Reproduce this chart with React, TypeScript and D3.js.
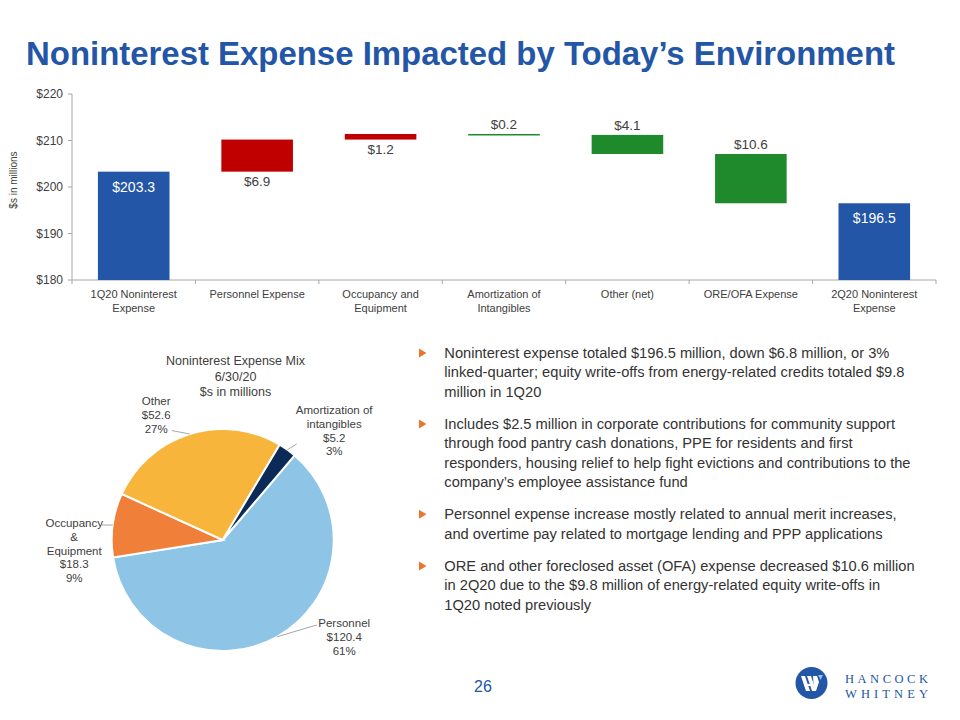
import React from "react";
import * as d3 from "d3";

// ---------- Data ----------
const categoryLabels = [
  "1Q20 Noninterest\nExpense",
  "Personnel Expense",
  "Occupancy and\nEquipment",
  "Amortization of\nIntangibles",
  "Other (net)",
  "ORE/OFA Expense",
  "2Q20 Noninterest\nExpense",
];
const startTotal = 203.3;
const changes = [6.9, 1.2, -0.2, -4.1, -10.6];
const endTotal = 196.5;
const yTicks = [180, 190, 200, 210, 220];

const mixLabels = ["Personnel", "Occupancy\n&\nEquipment", "Other", "Amortization of\nintangibles"];
const mixValues = [120.4, 18.3, 52.6, 5.2];
const mixPercents = ["61%", "9%", "27%", "3%"];

const bullets = [
  [
    "Noninterest expense totaled $196.5 million, down $6.8 million, or 3%",
    "linked-quarter; equity write-offs from energy-related credits totaled $9.8",
    "million in 1Q20",
  ],
  [
    "Includes $2.5 million in corporate contributions for community support",
    "through food pantry cash donations, PPE for residents and first",
    "responders, housing relief to help fight evictions and contributions to the",
    "company\u2019s employee assistance fund",
  ],
  [
    "Personnel expense increase mostly related to annual merit increases,",
    "and overtime pay related to mortgage lending and PPP applications",
  ],
  [
    "ORE and other foreclosed asset (OFA) expense decreased $10.6 million",
    "in 2Q20 due to the $9.8 million of energy-related equity write-offs in",
    "1Q20 noted previously",
  ],
];

// ---------- Style ----------
const FONT = "'Liberation Sans', Arial, sans-serif";
const BLUE = "#2356A6";
const RED = "#C00000";
const GREEN = "#1E8A2C";
const TEXT = "#404040";
const AXIS = "#A6A6A6";
const PIE_COLORS = ["#8EC4E6", "#F07F3A", "#F8B53B", "#0B2A57"];

// pie label layout (relative to pie center): text block center x, first-line y, leader end
const PIE_LABEL_LAYOUT = [
  { dx: 121.5, dy: 83, lx: 94, ly: 85 },
  { dx: -148.5, dy: -17, lx: -121, ly: -15 },
  { dx: -66.5, dy: -139, lx: -51, ly: -109.5 },
  { dx: 111.5, dy: -130, lx: 74, ly: -96 },
];

export default function App() {
  // ---------- Waterfall ----------
  const x = d3
    .scaleBand<string>()
    .domain(categoryLabels)
    .range([72, 936])
    .paddingInner(0.42)
    .paddingOuter(0.21);
  const y = d3.scaleLinear().domain([180, 220]).range([280, 94]);

  type Bar = { cat: string; lo: number; hi: number; kind: string; value: number };
  const bars: Bar[] = [];
  bars.push({ cat: categoryLabels[0], lo: 180, hi: startTotal, kind: "total", value: startTotal });
  let run = startTotal;
  changes.forEach((c, i) => {
    const a = run;
    const b = run + c;
    bars.push({
      cat: categoryLabels[i + 1],
      lo: Math.min(a, b),
      hi: Math.max(a, b),
      kind: c >= 0 ? "up" : "down",
      value: Math.abs(c),
    });
    run = b;
  });
  bars.push({ cat: categoryLabels[6], lo: 180, hi: endTotal, kind: "total", value: endTotal });

  const step = x.step();
  const boundaries = d3.range(categoryLabels.length + 1).map((i) => 72 + i * step);

  // ---------- Pie ----------
  const cx = 222.7;
  const cy = 540;
  const r = 111;
  const pie = d3
    .pie<number>()
    .sort(null)
    .value((d) => d)
    .startAngle((40.4 * Math.PI) / 180)
    .endAngle((40.4 * Math.PI) / 180 + 2 * Math.PI);
  const arcs = pie(mixValues);
  const arcGen = d3.arc<d3.PieArcDatum<number>>().innerRadius(0).outerRadius(r);

  const lineH = 19.33;
  const paraGap = 13;
  let yCursor = 358;
  const bulletBlocks = bullets.map((lines) => {
    const start = yCursor;
    yCursor += lines.length * lineH + paraGap;
    return { lines, start };
  });

  return (
    <svg
      width={960}
      height={720}
      style={{ position: "absolute", left: 0, top: 0, background: "#fff" }}
      fontFamily={FONT}
    >
      {/* Title */}
      <text
        x={26}
        y={65}
        fontSize={33}
        fontWeight="bold"
        fill={BLUE}
        textLength={869}
        lengthAdjust="spacingAndGlyphs"
      >
        Noninterest Expense Impacted by Today’s Environment
      </text>

      {/* Y axis label */}
      <text
        transform="translate(17,180) rotate(-90)"
        textAnchor="middle"
        fontSize={10}
        fill={TEXT}
      >
        $s in millions
      </text>

      {/* Y axis */}
      <line x1={72} x2={72} y1={y(220)} y2={y(180)} stroke={AXIS} />
      {yTicks.map((t) => (
        <g key={t}>
          <line x1={68} x2={72} y1={y(t)} y2={y(t)} stroke={AXIS} />
          <text x={63} y={y(t) + 4} textAnchor="end" fontSize={12} fill={TEXT}>
            ${t}
          </text>
        </g>
      ))}

      {/* X axis */}
      <line x1={72} x2={936} y1={y(180)} y2={y(180)} stroke={AXIS} />
      {boundaries.map((b, i) => (
        <line key={i} x1={b} x2={b} y1={y(180)} y2={y(180) + 4} stroke={AXIS} />
      ))}
      {categoryLabels.map((c) => (
        <text
          key={c}
          x={(x(c) as number) + x.bandwidth() / 2}
          y={298}
          textAnchor="middle"
          fontSize={11}
          fill={TEXT}
        >
          {c.split("\n").map((l, i) => (
            <tspan key={i} x={(x(c) as number) + x.bandwidth() / 2} dy={i === 0 ? 0 : 14}>
              {l}
            </tspan>
          ))}
        </text>
      ))}

      {/* Bars */}
      {bars.map((b, i) => {
        const bx = x(b.cat) as number;
        const top = y(b.hi);
        const h = Math.max(1.5, y(b.lo) - y(b.hi));
        const fill = b.kind === "total" ? BLUE : b.kind === "up" ? RED : GREEN;
        const cxb = bx + x.bandwidth() / 2;
        let label;
        if (b.kind === "total") {
          label = (
            <text x={cxb} y={top + 20} textAnchor="middle" fontSize={14} fill="#fff">
              ${b.value.toFixed(1)}
            </text>
          );
        } else if (b.kind === "up") {
          label = (
            <text x={cxb} y={y(b.lo) + 14} textAnchor="middle" fontSize={13.5} fill={TEXT}>
              ${b.value.toFixed(1)}
            </text>
          );
        } else {
          label = (
            <text x={cxb} y={top - 5} textAnchor="middle" fontSize={13.5} fill={TEXT}>
              ${b.value.toFixed(1)}
            </text>
          );
        }
        return (
          <g key={i}>
            <rect x={bx} y={top} width={x.bandwidth()} height={h} fill={fill} />
            {label}
          </g>
        );
      })}

      {/* Pie */}
      <g transform={`translate(${cx},${cy})`}>
        {arcs.map((a, i) => (
          <path key={i} d={arcGen(a) as string} fill={PIE_COLORS[i]} stroke="#fff" strokeWidth={2} />
        ))}
        {arcs.map((a, i) => {
          const mid = (a.startAngle + a.endAngle) / 2;
          const ex = r * Math.sin(mid);
          const ey = -r * Math.cos(mid);
          const L = PIE_LABEL_LAYOUT[i];
          const lines = [...mixLabels[i].split("\n"), `$${mixValues[i].toFixed(1)}`, mixPercents[i]];
          return (
            <g key={"l" + i}>
              <line x1={ex} y1={ey} x2={L.lx} y2={L.ly} stroke={AXIS} strokeWidth={1} />
              <text textAnchor="middle" fontSize={11.5} fill={TEXT}>
                {lines.map((l, j) => (
                  <tspan key={j} x={L.dx} y={L.dy + 4 + j * 13.8}>
                    {l}
                  </tspan>
                ))}
              </text>
            </g>
          );
        })}
      </g>
      <text textAnchor="middle" fontSize={12.5} fill={TEXT}>
        {["Noninterest Expense Mix", "6/30/20", "$s in millions"].map((l, j) => (
          <tspan key={j} x={235.5} y={365 + j * 15.5}>
            {l}
          </tspan>
        ))}
      </text>

      {/* Bullets */}
      {bulletBlocks.map((blk, bi) => (
        <g key={bi}>
          <path
            d={`M419,${blk.start - 9.5} L426.5,${blk.start - 5} L419,${blk.start - 0.5} Z`}
            fill="#E8772E"
          />
          <g transform={`translate(444.3,0) scale(0.978,1)`}>
            <text fontSize={15} fill="#333">
              {blk.lines.map((l, j) => (
                <tspan key={j} x={0} y={blk.start + j * lineH}>
                  {l}
                </tspan>
              ))}
            </text>
          </g>
        </g>
      ))}

      {/* Page number */}
      <text x={483} y={692} textAnchor="middle" fontSize={16} fill={BLUE}>
        26
      </text>

      {/* Logo */}
      <g>
        <circle cx={811.5} cy={683} r={16} fill={BLUE} />
        <path d="M801,676 L805,676 L810,691 L806,691 Z" fill="#fff" />
        <path d="M807,676 L811,676 L816,691 L812,691 Z" fill="#fff" />
        <path d="M804,684 L812,684 L812.6,686 L804.6,686 Z" fill="#fff" />
        <path d="M813,676 L817,676 L819,682 L816,691 L814,691 Z" fill="#fff" />
        <path d="M818,675 L823,675 L820.5,680 Z" fill="#8EC4E6" />
        <text
          x={845}
          y={683}
          fontFamily="'Liberation Serif', 'DejaVu Serif', serif"
          fontSize={12.5}
          fill={BLUE}
          textLength={83}
          lengthAdjust="spacing"
        >
          HANCOCK
        </text>
        <text
          x={845}
          y={697.5}
          fontFamily="'Liberation Serif', 'DejaVu Serif', serif"
          fontSize={12.5}
          fill={BLUE}
          textLength={83}
          lengthAdjust="spacing"
        >
          WHITNEY
        </text>
      </g>
    </svg>
  );
}
